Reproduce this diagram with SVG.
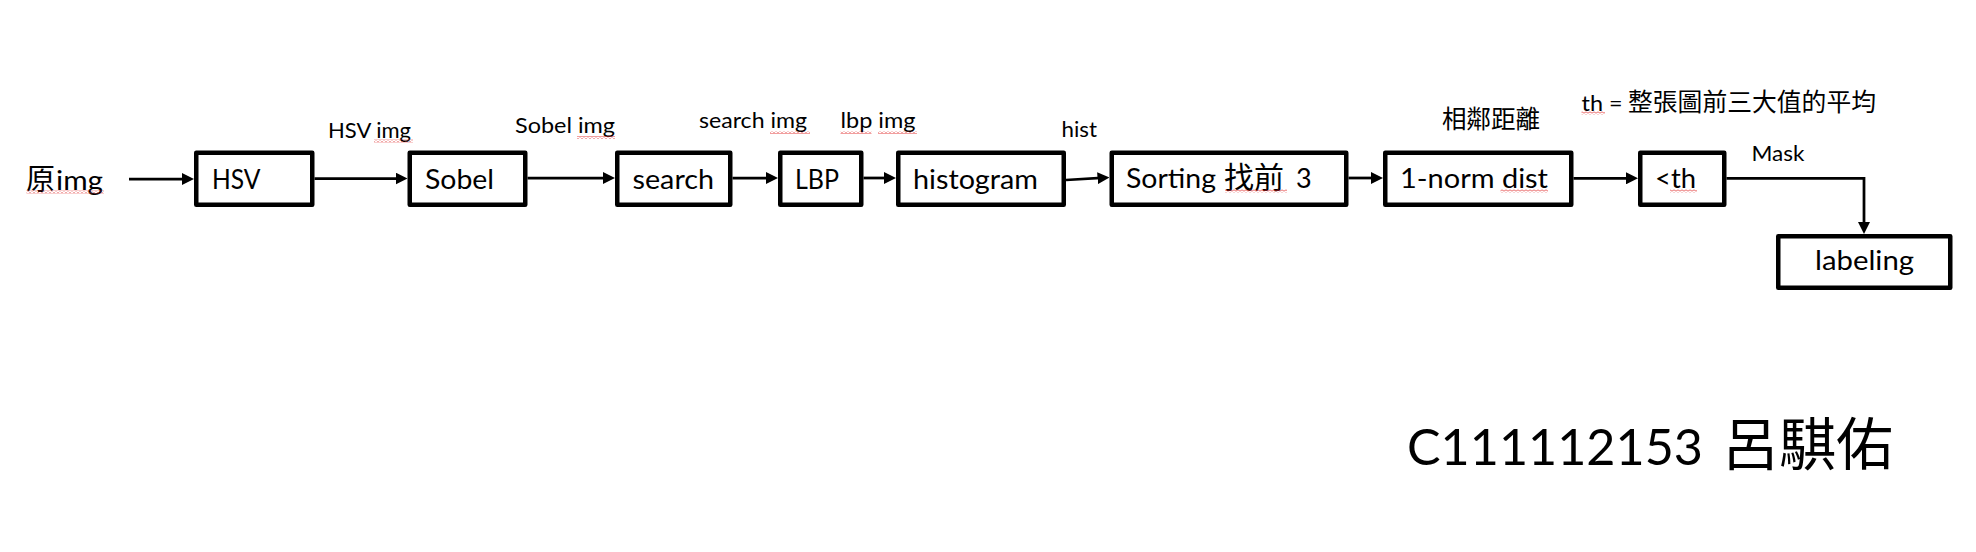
<svg xmlns="http://www.w3.org/2000/svg" width="1976" height="552" viewBox="0 0 1976 552">
<style>
.box{fill:#fff;stroke:#000;stroke-width:4.5;stroke-linejoin:round}
.t{font-family:Lato,"Noto Sans CJK TC",sans-serif;fill:#000}
.bt{font-size:27px}
.lb{font-size:21.5px}
.cjk{font-family:"Noto Sans CJK TC",sans-serif}
.conn{stroke:#000;stroke-width:2.75;fill:none}
.sq{fill:url(#squig)}
</style>
<defs>
<marker id="ah" markerUnits="userSpaceOnUse" markerWidth="12" markerHeight="12" refX="8" refY="6" orient="auto">
<path d="M0,0 L12,6 L0,12 z" fill="#000"/>
</marker>
<pattern id="squig" patternUnits="userSpaceOnUse" width="4" height="3">
<polyline points="0,2.5 2,0.5 4,2.5" fill="none" stroke="#e02828" stroke-width="0.9"/>
</pattern>
</defs>
<rect width="1976" height="552" fill="#fff"/>

<g id="connectors">
<line class="conn" x1="129" y1="179" x2="190" y2="179" marker-end="url(#ah)"/>
<line class="conn" x1="314.5" y1="178.5" x2="403.5" y2="178.5" marker-end="url(#ah)"/>
<line class="conn" x1="527.5" y1="178" x2="611" y2="178" marker-end="url(#ah)"/>
<line class="conn" x1="732.5" y1="178" x2="774" y2="178" marker-end="url(#ah)"/>
<line class="conn" x1="863.5" y1="178" x2="892" y2="178" marker-end="url(#ah)"/>
<line class="conn" x1="1066" y1="180" x2="1105.5" y2="177.7" marker-end="url(#ah)"/>
<line class="conn" x1="1348.5" y1="178" x2="1379" y2="178" marker-end="url(#ah)"/>
<line class="conn" x1="1573.5" y1="178.3" x2="1634" y2="178.3" marker-end="url(#ah)"/>
<path class="conn" d="M1726.5,178.3 H1864 V230" marker-end="url(#ah)"/>
</g>

<g id="edge-labels">
<text class="t lb" x="328" y="137.7" textLength="83" lengthAdjust="spacingAndGlyphs">HSV img</text>
<text class="t lb" x="515" y="133.3" textLength="100" lengthAdjust="spacingAndGlyphs">Sobel img</text>
<text class="t lb" x="699" y="128.3" textLength="108" lengthAdjust="spacingAndGlyphs">search img</text>
<text class="t lb" x="840.5" y="128.3" textLength="75" lengthAdjust="spacingAndGlyphs">lbp img</text>
<text class="t lb" x="1061.5" y="137.3" textLength="35.5" lengthAdjust="spacingAndGlyphs">hist</text>
<text class="t cjk" font-size="24.5" x="1442" y="128">相鄰距離</text>
<text class="t lb" x="1581.5" y="110.5"><tspan textLength="41" lengthAdjust="spacingAndGlyphs">th =</tspan> <tspan class="cjk" font-size="24.8" x="1628">整張圖前三大值的平均</tspan></text>
<text class="t lb" x="1751.5" y="160.7" textLength="53" lengthAdjust="spacingAndGlyphs">Mask</text>
<rect class="sq" x="374" y="139.5" width="39" height="3"/>
<rect class="sq" x="577" y="136" width="38" height="3"/>
<rect class="sq" x="770" y="131" width="40" height="3"/>
<rect class="sq" x="840.5" y="131" width="31" height="3"/>
<rect class="sq" x="878" y="131" width="39" height="3"/>
<rect class="sq" x="1581.5" y="111.5" width="23.5" height="3"/>
</g>

<g id="node-input">
<text class="t bt" x="26" y="190"><tspan class="cjk" font-size="29">原</tspan><tspan x="56" textLength="47" lengthAdjust="spacingAndGlyphs">img</tspan></text>
<rect class="sq" x="26.5" y="190.5" width="77.5" height="3"/>
</g>

<g id="node-hsv">
<rect class="box" x="196.25" y="152.75" width="116" height="52"/>
<text class="t bt" x="212" y="188.8" textLength="48.5" lengthAdjust="spacingAndGlyphs">HSV</text>
</g>

<g id="node-sobel">
<rect class="box" x="409.75" y="152.75" width="115.5" height="52"/>
<text class="t bt" x="425" y="188.8" textLength="69" lengthAdjust="spacingAndGlyphs">Sobel</text>
</g>

<g id="node-search">
<rect class="box" x="617.25" y="152.75" width="113" height="52"/>
<text class="t bt" x="632.5" y="188.8" textLength="81.5" lengthAdjust="spacingAndGlyphs">search</text>
</g>

<g id="node-lbp">
<rect class="box" x="780.25" y="152.75" width="81" height="52"/>
<text class="t bt" x="795" y="188.8" textLength="44" lengthAdjust="spacingAndGlyphs">LBP</text>
</g>

<g id="node-histogram">
<rect class="box" x="898.25" y="152.75" width="165.5" height="52"/>
<text class="t bt" x="913" y="188.8" textLength="125" lengthAdjust="spacingAndGlyphs">histogram</text>
</g>

<g id="node-sorting">
<rect class="box" x="1111.75" y="152.75" width="234.5" height="52"/>
<text class="t bt" x="1126" y="187.8"><tspan textLength="90" lengthAdjust="spacingAndGlyphs">Sorting</tspan> <tspan class="cjk" font-size="30" x="1224">找前 </tspan><tspan x="1296">3</tspan></text>
<rect class="sq" x="1225" y="189.5" width="62" height="3"/>
</g>

<g id="node-dist">
<rect class="box" x="1385.25" y="152.75" width="186" height="52"/>
<text class="t bt" x="1400" y="187.8" textLength="148" lengthAdjust="spacingAndGlyphs">1-norm dist</text>
<rect class="sq" x="1500.5" y="189.5" width="47.5" height="3"/>
</g>

<g id="node-th">
<rect class="box" x="1640.25" y="152.75" width="84" height="52"/>
<text class="t bt" x="1655" y="187.8" textLength="41" lengthAdjust="spacingAndGlyphs">&lt;th</text>
<rect class="sq" x="1670" y="189.5" width="27" height="3"/>
</g>

<g id="node-labeling">
<rect class="box" x="1778.25" y="236.25" width="172" height="51.5"/>
<text class="t bt" x="1815" y="270" textLength="99" lengthAdjust="spacingAndGlyphs">labeling</text>
</g>

<g id="author">
<text class="t" font-size="51" x="1407" y="465"><tspan textLength="296" lengthAdjust="spacingAndGlyphs">C111112153</tspan> <tspan class="cjk" font-size="57" x="1722">呂騏佑</tspan></text>
</g>
</svg>
